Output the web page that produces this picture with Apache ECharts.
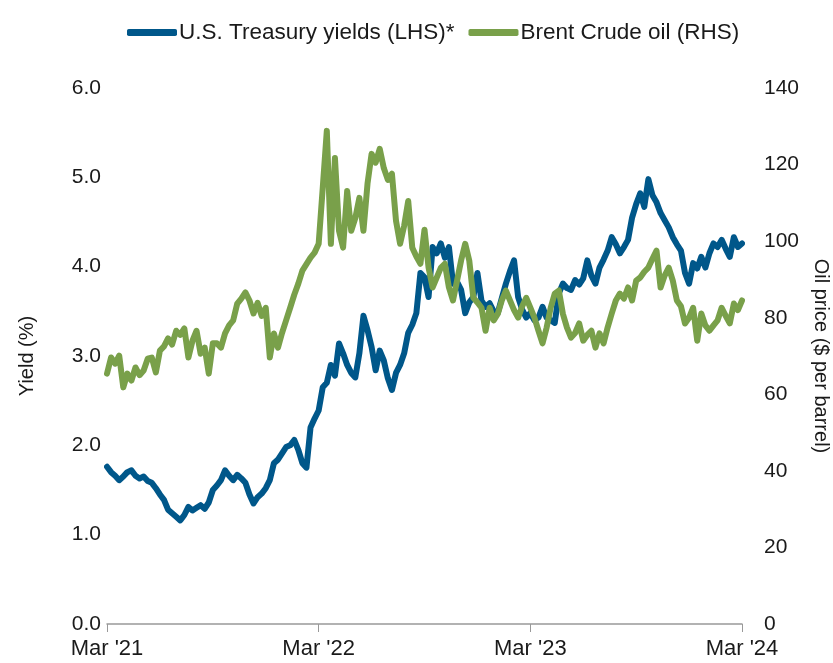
<!DOCTYPE html>
<html>
<head>
<meta charset="utf-8">
<title>Treasury yields vs Brent</title>
<script src="https://cdn.jsdelivr.net/npm/echarts@6/dist/echarts.min.js"></script>
<style>
  html, body { margin: 0; padding: 0; background: #fff; }
  #chart { width: 833px; height: 663px; }
</style>
</head>
<body>
<div id="chart"></div>
<script>
// weekly points, Mar 2021 -> Mar 2024
var tickLabels = ["Mar '21", "Mar '22", "Mar '23", "Mar '24"];

// U.S. Treasury yields (%), left axis
var yields = [
    1.76, 1.70, 1.66, 1.61, 1.65, 1.70, 1.72, 1.66, 1.63, 1.65,
    1.60, 1.58, 1.52, 1.45, 1.39, 1.28, 1.24, 1.20, 1.16, 1.22,
    1.31, 1.27, 1.30, 1.33, 1.29, 1.36, 1.50, 1.55, 1.61, 1.72,
    1.66, 1.61, 1.67, 1.63, 1.58, 1.45, 1.35, 1.42, 1.46, 1.52,
    1.61, 1.80, 1.84, 1.91, 1.98, 2.00, 2.06, 1.95, 1.80, 1.75,
    2.20, 2.30, 2.39, 2.65, 2.70, 2.90, 2.78, 3.14, 3.03, 2.90,
    2.81, 2.76, 3.03, 3.45, 3.29, 3.10, 2.84, 3.06, 2.95, 2.75,
    2.62, 2.81, 2.90, 3.03, 3.26, 3.35, 3.48, 3.93, 3.88, 3.66,
    4.22, 4.15, 4.26, 4.10, 4.22, 3.81, 3.83, 3.74, 3.48, 3.60,
    3.66, 3.93, 3.62, 3.55, 3.59, 3.50, 3.48, 3.65, 3.81, 3.95,
    4.07, 3.66, 3.52, 3.43, 3.48, 3.40, 3.43, 3.55, 3.43, 3.40,
    3.37, 3.70, 3.81, 3.76, 3.74, 3.85, 3.80, 3.87, 4.07, 3.90,
    3.81, 3.99, 4.08, 4.18, 4.33, 4.25, 4.15, 4.22, 4.30, 4.55,
    4.70, 4.82, 4.67, 4.98, 4.80, 4.72, 4.60, 4.52, 4.44, 4.33,
    4.25, 4.18, 3.93, 3.81, 4.04, 3.98, 4.11, 3.99, 4.15, 4.26,
    4.22, 4.30, 4.20, 4.11, 4.33, 4.22, 4.26
];

// Brent crude ($ per barrel), right axis
var brent = [
    65.4, 69.6, 68.0, 70.1, 61.8, 65.4, 63.6, 67.0, 65.0, 66.2,
    69.3, 69.6, 65.7, 71.4, 72.5, 74.6, 73.0, 76.6, 75.5, 77.2,
    69.6, 74.0, 76.6, 70.6, 72.2, 65.4, 73.3, 73.3, 72.2, 75.9,
    78.0, 79.3, 83.7, 85.0, 86.6, 84.5, 81.1, 83.9, 80.5, 82.6,
    69.6, 75.9, 72.2, 76.0, 79.3, 82.6, 86.0, 88.9, 92.3, 94.0,
    95.7, 97.0, 99.3, 113.9, 128.8, 99.3, 121.7, 102.7, 98.3, 113.1,
    102.7, 106.0, 111.3, 102.7, 115.0, 122.8, 120.5, 124.1, 119.1, 116.0,
    117.6, 105.3, 99.3, 104.0, 110.5, 98.3, 96.0, 94.1, 103.0, 93.1,
    87.9, 90.5, 93.0, 94.1, 87.9, 84.5, 89.7, 95.0, 99.3, 94.9,
    85.2, 84.0, 82.6, 76.6, 82.6, 79.3, 81.0, 84.5, 87.1, 84.5,
    82.0, 80.0, 83.0, 85.2, 82.6, 80.0, 76.6, 73.3, 77.4, 82.6,
    86.3, 87.1, 81.0, 77.4, 74.8, 76.0, 78.5, 74.0, 75.5, 76.6,
    72.2, 75.9, 73.3, 77.5, 81.1, 84.5, 86.3, 85.0, 87.9, 84.5,
    89.7, 90.5, 92.0, 93.1, 95.4, 97.5, 87.9, 91.0, 93.1, 89.7,
    84.5, 83.0, 78.5, 80.0, 82.6, 74.0, 81.1, 78.0, 76.6, 78.0,
    79.3, 82.6, 80.5, 78.5, 83.7, 82.0, 84.5
];

// one category per week
var weeks = [];
for (var i = 0; i < yields.length; i++) {
    weeks.push(i);
}

var chart = echarts.init(document.getElementById('chart'));
var txt = '#1a1a1a';
var font = "'Liberation Sans', Arial, sans-serif";

var option = {
    animation: false,
    backgroundColor: '#fff',
    legend: {
        top: 16,
        left: 122,
        itemWidth: 50,
        itemHeight: 7,
        itemGap: 14,
        icon: 'roundRect',
        textStyle: { fontFamily: font, fontSize: 22.5, color: txt, padding: [0, 0, 0, -3] },
        data: ['U.S. Treasury yields (LHS)*', 'Brent Crude oil (RHS)']
    },
    grid: { left: 107, right: 91, top: 88, bottom: 39, containLabel: false, outerBoundsMode: 'none' },
    xAxis: {
        type: 'category',
        data: weeks,
        boundaryGap: false,
        axisLine: { lineStyle: { color: '#999', width: 1.5 } },
        axisTick: {
            length: 8,
            lineStyle: { color: '#999' },
            interval: function (idx) { return idx % 52 === 0; }
        },
        axisLabel: {
            interval: function (idx) { return idx % 52 === 0; },
            formatter: function (v, idx) { return tickLabels[idx / 52]; },
            fontFamily: font,
            fontSize: 22,
            color: txt,
            margin: 14
        },
        splitLine: { show: false }
    },
    yAxis: [{
        type: 'value',
        min: 0,
        max: 6,
        interval: 1,
        name: 'Yield (%)',
        nameLocation: 'middle',
        nameRotate: 90,
        nameGap: 70,
        nameTextStyle: { fontFamily: font, fontSize: 20, color: txt },
        axisLine: { show: false },
        axisTick: { show: false },
        splitLine: { show: false },
        axisLabel: {
            formatter: function (v) { return v.toFixed(1); },
            fontFamily: font,
            fontSize: 21,
            color: txt,
            margin: 6
        }
    }, {
        type: 'value',
        min: 0,
        max: 140,
        interval: 20,
        name: 'Oil price ($ per barrel)',
        nameLocation: 'middle',
        nameRotate: -90,
        nameGap: 69,
        nameTextStyle: { fontFamily: font, fontSize: 20, color: txt },
        axisLine: { show: false },
        axisTick: { show: false },
        splitLine: { show: false },
        axisLabel: {
            fontFamily: font,
            fontSize: 21,
            color: txt,
            margin: 22
        }
    }],
    series: [{
        name: 'U.S. Treasury yields (LHS)*',
        type: 'line',
        yAxisIndex: 0,
        data: yields,
        showSymbol: false,
        color: '#00578A',
        lineStyle: { width: 6, color: '#00578A', cap: 'round', join: 'round' }
    }, {
        name: 'Brent Crude oil (RHS)',
        type: 'line',
        yAxisIndex: 1,
        data: brent,
        showSymbol: false,
        color: '#79A04A',
        lineStyle: { width: 6, color: '#79A04A', cap: 'round', join: 'round' }
    }]
};

chart.setOption(option);
</script>
</body>
</html>
